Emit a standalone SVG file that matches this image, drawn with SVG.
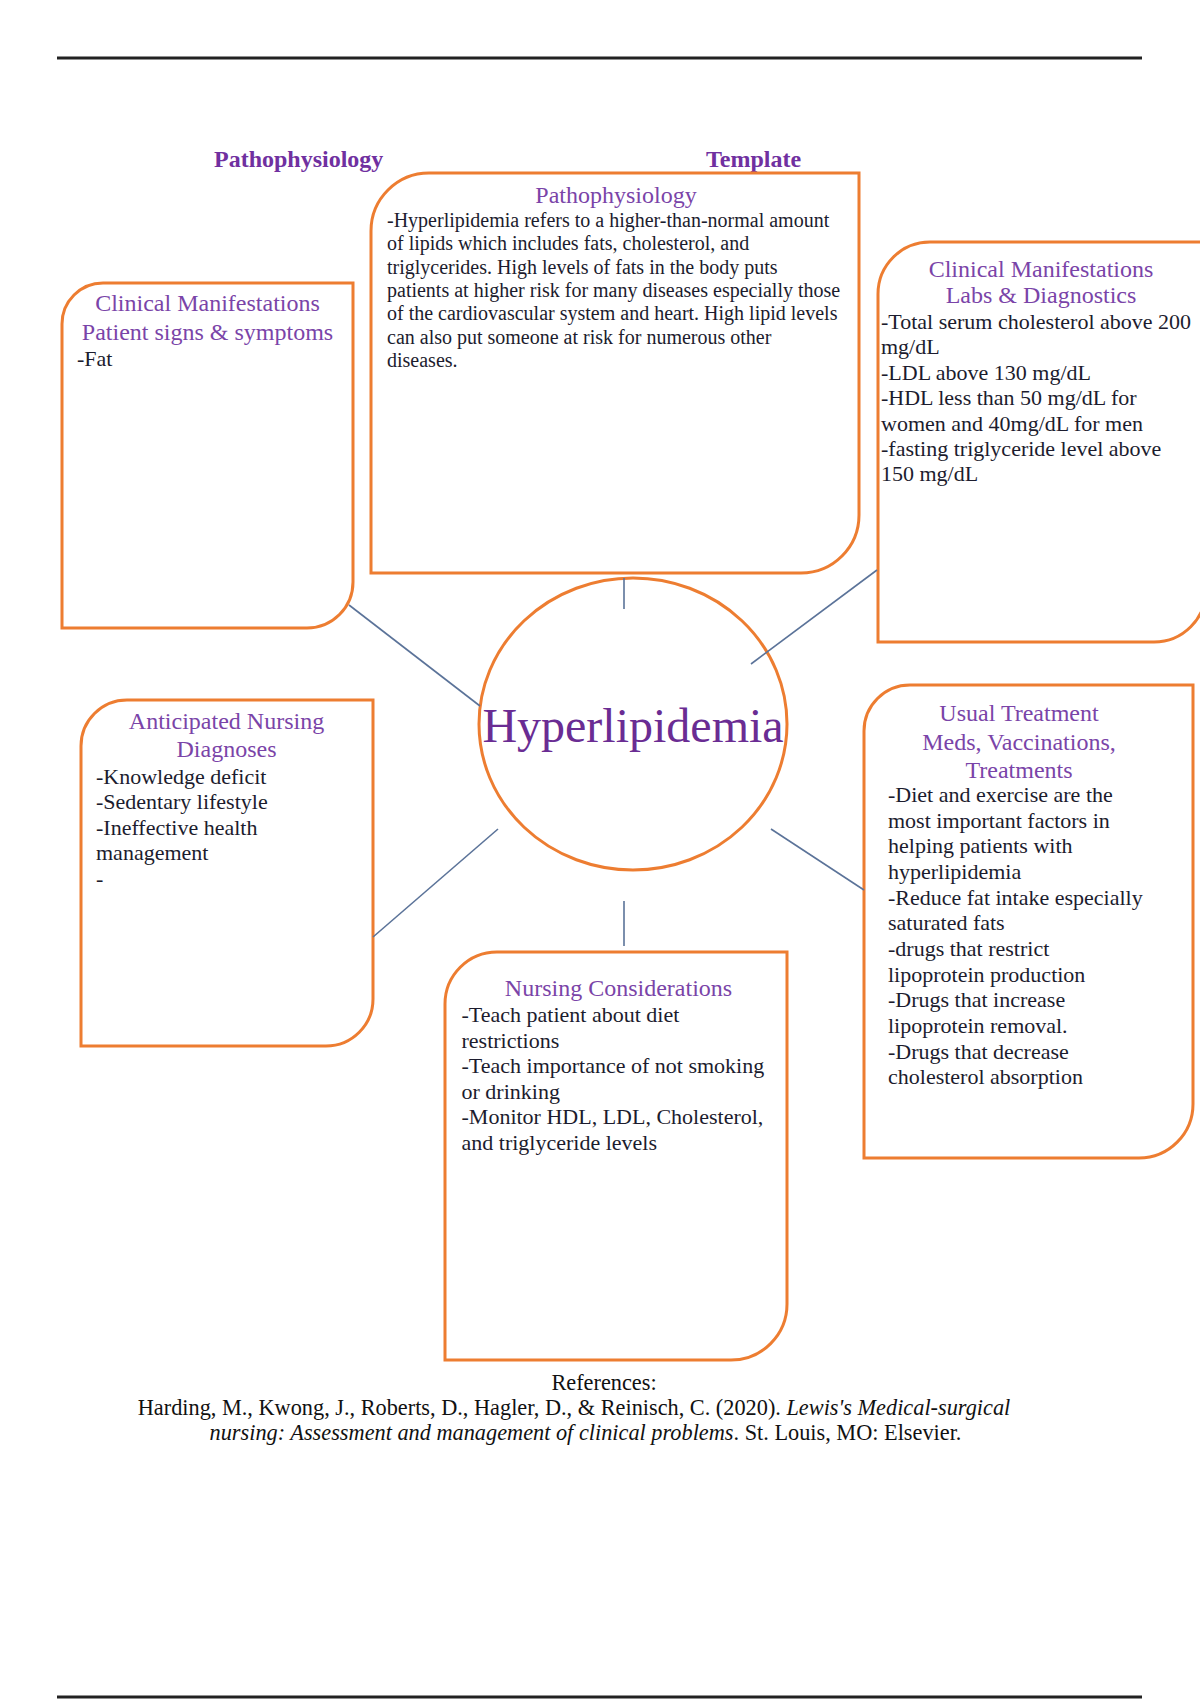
<svg xmlns="http://www.w3.org/2000/svg" width="1200" height="1700" viewBox="0 0 1200 1700">
<style>
.box{fill:#ffffff;stroke:#ED7D31;stroke-width:3}
.ring{fill:none;stroke:#ED7D31;stroke-width:3}
.conn{stroke:#5b7399;stroke-width:1.6;fill:none}
.rule{stroke:#222222;stroke-width:3}
.hdr{font-family:"Liberation Serif","Times New Roman",serif;font-size:24px;font-weight:bold;fill:#7030A0}
.ttl{font-family:"Liberation Serif","Times New Roman",serif;font-size:24px;fill:#7a44a8;text-anchor:middle}
.b20{font-family:"Liberation Serif","Times New Roman",serif;font-size:20px;fill:#1c1c2e}
.b22{font-family:"Liberation Serif","Times New Roman",serif;font-size:22px;fill:#1c1c2e}
.ref{font-family:"Liberation Serif","Times New Roman",serif;font-size:22.3px;fill:#111111;text-anchor:middle}
.center{font-family:"Liberation Serif","Times New Roman",serif;font-size:48px;fill:#6a2c93;text-anchor:middle}
</style>
<rect x="0" y="0" width="1200" height="1700" fill="#ffffff"/>
<line class="rule" x1="57" y1="58" x2="1142" y2="58"/>
<line class="rule" x1="57" y1="1697" x2="1142" y2="1697"/>
<text class="hdr" x="214" y="167">Pathophysiology</text>
<text class="hdr" x="706" y="167">Template</text>

<g id="node-pathophysiology">
<path class="box" d="M429,173 H859 V515 A58,58 0 0 1 801,573 H371 V231 A58,58 0 0 1 429,173 Z"/>
<text class="ttl" x="616" y="203">Pathophysiology</text>
<text class="b20" x="387" y="227">-Hyperlipidemia refers to a higher-than-normal amount</text>
<text class="b20" x="387" y="250.3">of lipids which includes fats, cholesterol, and</text>
<text class="b20" x="387" y="273.6">triglycerides. High levels of fats in the body puts</text>
<text class="b20" x="387" y="296.9">patients at higher risk for many diseases especially those</text>
<text class="b20" x="387" y="320.2">of the cardiovascular system and heart. High lipid levels</text>
<text class="b20" x="387" y="343.5">can also put someone at risk for numerous other</text>
<text class="b20" x="387" y="366.8">diseases.</text>
</g>

<g id="node-clinical-signs">
<path class="box" d="M103,283 H353 V582 A46,46 0 0 1 307,628 H62 V324 A41,41 0 0 1 103,283 Z"/>
<text class="ttl" x="207.5" y="311">Clinical Manifestations</text>
<text class="ttl" x="207.5" y="339.5">Patient signs &amp; symptoms</text>
<text class="b22" x="77" y="366">-Fat</text>
</g>

<g id="node-clinical-labs">
<path class="box" d="M930,242 H1206 V590 A52,52 0 0 1 1154,642 H878 V294 A52,52 0 0 1 930,242 Z"/>
<text class="ttl" x="1041" y="277">Clinical Manifestations</text>
<text class="ttl" x="1041" y="303">Labs &amp; Diagnostics</text>
<text class="b22" x="881" y="329">-Total serum cholesterol above 200</text>
<text class="b22" x="881" y="354.4">mg/dL</text>
<text class="b22" x="881" y="379.8">-LDL above 130 mg/dL</text>
<text class="b22" x="881" y="405.2">-HDL less than 50 mg/dL for</text>
<text class="b22" x="881" y="430.6">women and 40mg/dL for men</text>
<text class="b22" x="881" y="456">-fasting triglyceride level above</text>
<text class="b22" x="881" y="481.4">150 mg/dL</text>
</g>

<g id="node-hyperlipidemia">
<ellipse class="ring" cx="633" cy="724" rx="154" ry="146"/>
<text class="center" x="633" y="742">Hyperlipidemia</text>
</g>

<g id="node-nursing-diagnoses">
<path class="box" d="M127,700 H373 V999 A47,47 0 0 1 326,1046 H81 V746 A46,46 0 0 1 127,700 Z"/>
<text class="ttl" x="226.5" y="729">Anticipated Nursing</text>
<text class="ttl" x="226.5" y="757">Diagnoses</text>
<text class="b22" x="96" y="784">-Knowledge deficit</text>
<text class="b22" x="96" y="809.4">-Sedentary lifestyle</text>
<text class="b22" x="96" y="834.8">-Ineffective health</text>
<text class="b22" x="96" y="860.2">management</text>
<text class="b22" x="96" y="885.6">-</text>
</g>

<g id="node-usual-treatment">
<path class="box" d="M910,685 H1193 V1104 A54,54 0 0 1 1139,1158 H864 V731 A46,46 0 0 1 910,685 Z"/>
<text class="ttl" x="1019" y="721">Usual Treatment</text>
<text class="ttl" x="1019" y="749.5">Meds, Vaccinations,</text>
<text class="ttl" x="1019" y="778">Treatments</text>
<text class="b22" x="888" y="802">-Diet and exercise are the</text>
<text class="b22" x="888" y="827.65">most important factors in</text>
<text class="b22" x="888" y="853.3">helping patients with</text>
<text class="b22" x="888" y="878.95">hyperlipidemia</text>
<text class="b22" x="888" y="904.6">-Reduce fat intake especially</text>
<text class="b22" x="888" y="930.25">saturated fats</text>
<text class="b22" x="888" y="955.9">-drugs that restrict</text>
<text class="b22" x="888" y="981.55">lipoprotein production</text>
<text class="b22" x="888" y="1007.2">-Drugs that increase</text>
<text class="b22" x="888" y="1032.85">lipoprotein removal.</text>
<text class="b22" x="888" y="1058.5">-Drugs that decrease</text>
<text class="b22" x="888" y="1084.15">cholesterol absorption</text>
</g>

<g id="node-nursing-considerations">
<path class="box" d="M497,952 H787 V1304 A56,56 0 0 1 731,1360 H445 V1004 A52,52 0 0 1 497,952 Z"/>
<text class="ttl" x="618.5" y="996">Nursing Considerations</text>
<text class="b22" x="461.5" y="1022">-Teach patient about diet</text>
<text class="b22" x="461.5" y="1047.6">restrictions</text>
<text class="b22" x="461.5" y="1073.2">-Teach importance of not smoking</text>
<text class="b22" x="461.5" y="1098.8">or drinking</text>
<text class="b22" x="461.5" y="1124.4">-Monitor HDL, LDL, Cholesterol,</text>
<text class="b22" x="461.5" y="1150">and triglyceride levels</text>
</g>

<g id="connectors">
<line class="conn" x1="624" y1="578" x2="624" y2="609"/>
<line class="conn" x1="349" y1="605" x2="480" y2="706"/>
<line class="conn" x1="877" y1="570" x2="751" y2="664"/>
<line class="conn" x1="498" y1="829" x2="373" y2="937"/>
<line class="conn" x1="771" y1="829" x2="864" y2="890"/>
<line class="conn" x1="624" y1="901" x2="624" y2="946"/>
</g>

<g id="references">
<text class="ref" x="604" y="1390">References:</text>
<text class="ref" x="574" y="1415">Harding, M., Kwong, J., Roberts, D., Hagler, D., &amp; Reinisch, C. (2020). <tspan font-style="italic">Lewis's Medical-surgical</tspan></text>
<text class="ref" x="585.5" y="1440"><tspan font-style="italic">nursing: Assessment and management of clinical problems</tspan>. St. Louis, MO: Elsevier.</text>
</g>
</svg>
